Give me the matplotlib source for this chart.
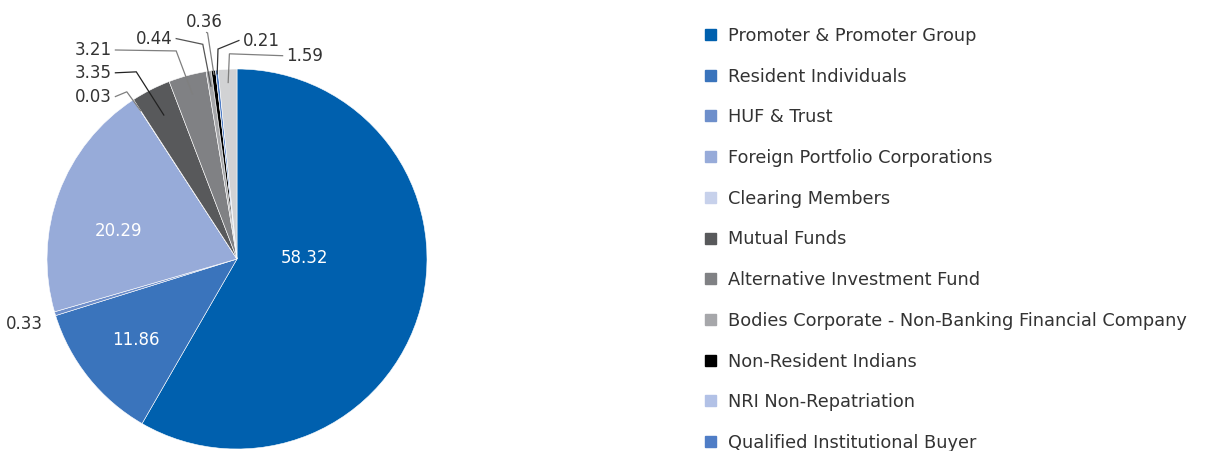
import numpy as np
import matplotlib.pyplot as plt
from matplotlib.patches import Rectangle

plt.rcParams['font.family'] = ['DejaVu Sans']

categories = ['Promoter & Promoter Group', 'Resident Individuals', 'HUF & Trust',
              'Foreign Portfolio Corporations', 'Clearing Members', 'Mutual Funds',
              'Alternative Investment Fund',
              'Bodies Corporate - Non-Banking Financial Company',
              'Non-Resident Indians', 'NRI Non-Repatriation',
              'Qualified Institutional Buyer', 'Others']
values = [58.32, 11.86, 0.33, 20.29, 0.03, 3.35, 3.21, 0.44, 0.36, 0.00, 0.21, 1.59]
colors = ['#0060AE', '#3A74BC', '#6E8FCB', '#97ABD9', '#C7D1EB', '#58595B',
          '#808184', '#A6A7AA', '#000000', '#B2C1E6', '#4F7DC6', '#D1D2D4']
n_legend = 11   # the rest of the legend falls below the picture

W, H = 1216, 451
fig = plt.figure(figsize=(W / 100, H / 100), dpi=100)
ax = fig.add_axes([47 / W, 2 / H, 380 / W, 380 / H])

wedges, _ = ax.pie(values, colors=colors, startangle=90, counterclock=False,
                   radius=1, wedgeprops=dict(linewidth=0.4, edgecolor='white'))
ax.set_xlim(-1, 1)
ax.set_ylim(-1, 1)
ax.set_aspect('equal')
ax.axis('off')

def mid(w, r):
    a = np.deg2rad((w.theta1 + w.theta2) / 2)
    return r * np.cos(a), r * np.sin(a)

fs = 12
# labels inside the big slices (positions are layout)
inside = [(0, 0.353, 0.005), (1, -0.532, -0.426), (3, -0.626, 0.147)]
for i, x, y in inside:
    ax.text(x, y, f'{values[i]:.2f}', color='white', ha='center', va='center',
            fontsize=fs)

# 0.33 sits just outside the edge
ax.text(-1.02, -0.34, f'{values[2]:.2f}', ha='right', va='center',
        fontsize=fs, color='#333333')

# leader-line labels: index, text pos, elbow pos, radius of the inner point
leaders = [
    (4, (-0.66, 0.855), (-0.58, 0.88), 0.93, 'right', '#7f7f7f'),
    (5, (-0.66, 0.98), (-0.53, 0.985), 0.85, 'right', '#222222'),
    (6, (-0.66, 1.10), (-0.32, 1.095), 0.90, 'right', '#7f7f7f'),
    (7, (-0.34, 1.16), (-0.18, 1.13), 0.92, 'right', '#555555'),
    (8, (-0.17, 1.247), (-0.155, 1.19), 0.98, 'center', '#7f7f7f'),
    (10, (0.03, 1.15), (-0.10, 1.105), 0.98, 'left', '#333333'),
    (11, (0.26, 1.07), (-0.04, 1.08), 0.93, 'left', '#7f7f7f'),
]
for i, (tx, ty), (ex, ey), r, ha, lc in leaders:
    px, py = mid(wedges[i], r)
    if ha == 'right':
        start = (tx + 0.02, ty)
    elif ha == 'left':
        start = (tx - 0.02, ty)
    else:
        start = (tx + 0.01, ty - 0.055)
    ax.plot([start[0], ex, px], [start[1], ey, py], color=lc,
            lw=0.9, clip_on=False, solid_joinstyle='miter')
    ax.text(tx, ty, f'{values[i]:.2f}', ha=ha, va='center',
            fontsize=fs, color='#333333', clip_on=False)

# legend
for k in range(n_legend):
    yc = 35 + k * 40.7
    fig.add_artist(Rectangle((705 / W, 1 - (yc + 5) / H), 11 / W, 11 / H,
                             transform=fig.transFigure, color=colors[k]))
    fig.text(728 / W, 1 - (yc + 1) / H, categories[k], ha='left', va='center',
             fontsize=12.8, color='#333333')

fig.savefig('out.png', dpi=100)
